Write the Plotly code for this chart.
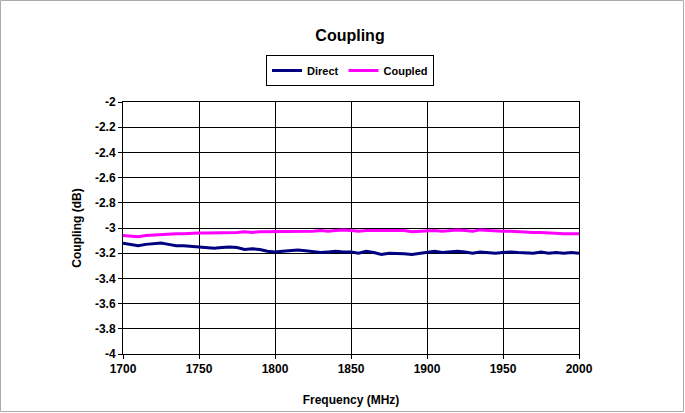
import plotly.graph_objects as go

freq = list(range(1700, 2001, 5))
direct = [-3.12, -3.13, -3.14, -3.13, -3.125, -3.12, -3.13, -3.14, -3.14, -3.145,
          -3.15, -3.155, -3.16, -3.155, -3.15, -3.155, -3.17, -3.165, -3.17, -3.185,
          -3.19, -3.185, -3.18, -3.175, -3.18, -3.19, -3.195, -3.19, -3.185, -3.19,
          -3.19, -3.2, -3.185, -3.195, -3.21, -3.2, -3.2, -3.205, -3.21, -3.2,
          -3.19, -3.185, -3.195, -3.19, -3.185, -3.19, -3.2, -3.19, -3.195, -3.2,
          -3.195, -3.19, -3.195, -3.2, -3.2, -3.19, -3.2, -3.195, -3.2, -3.195, -3.2]
coupled = [-3.06, -3.065, -3.07, -3.06, -3.055, -3.05, -3.05, -3.045, -3.045, -3.04,
           -3.04, -3.04, -3.04, -3.04, -3.035, -3.035, -3.03, -3.035, -3.03, -3.03,
           -3.025, -3.025, -3.025, -3.03, -3.025, -3.025, -3.02, -3.025, -3.02, -3.015,
           -3.02, -3.025, -3.02, -3.02, -3.025, -3.02, -3.025, -3.02, -3.03, -3.025,
           -3.02, -3.02, -3.025, -3.02, -3.015, -3.02, -3.025, -3.015, -3.02, -3.025,
           -3.025, -3.025, -3.03, -3.03, -3.035, -3.035, -3.04, -3.04, -3.045, -3.045, -3.045]

x_ticks = [1700, 1750, 1800, 1850, 1900, 1950, 2000]
y_ticks = [-2, -2.2, -2.4, -2.6, -2.8, -3, -3.2, -3.4, -3.6, -3.8, -4]

W, H = 685, 413
L, R, T, B = 123, 106, 102, 59
pw, ph = W - L - R, H - T - B

font = dict(family="Liberation Sans, Arial", color="black")

fig = go.Figure()
fig.add_trace(go.Scatter(x=freq, y=direct, mode="lines", name="<b>Direct</b>",
                         line=dict(color="#000080", width=3)))
fig.add_trace(go.Scatter(x=freq, y=coupled, mode="lines", name="<b>Coupled</b>",
                         line=dict(color="#FF00FF", width=3)))

fig.update_layout(
    width=W, height=H,
    margin=dict(l=L, r=R, t=T, b=B),
    paper_bgcolor="white", plot_bgcolor="white",
    font=dict(size=12, **font),
    title=dict(text="<b>Coupling</b>", x=350 / W, xanchor="center",
               y=1 - 35 / H, yanchor="middle", font=dict(size=16, **font)),
    showlegend=True,
    legend=dict(orientation="h", x=(350 - L) / pw, xanchor="center",
                y=1 + (T - 55) / ph, yanchor="top",
                bordercolor="black", borderwidth=1, bgcolor="white",
                font=dict(size=11, **font), itemwidth=30,
                tracegroupgap=0),
    xaxis=dict(range=[1700, 2000], tickvals=x_ticks,
               ticktext=[f"<b>{v}</b>" for v in x_ticks],
               showgrid=True, gridcolor="black", gridwidth=1,
               showline=True, linecolor="black", linewidth=1, mirror=True,
               ticks="outside", ticklen=4, tickcolor="black", automargin=False,
               zeroline=False, tickfont=dict(size=12, **font),
               title=dict(text="<b>Frequency (MHz)</b>", font=dict(size=12, **font), standoff=20)),
    yaxis=dict(range=[-4, -2], tickvals=y_ticks,
               ticktext=[f"<b>{v:g}</b>" for v in y_ticks],
               showgrid=True, gridcolor="black", gridwidth=1,
               showline=True, linecolor="black", linewidth=1, mirror=True,
               ticks="outside", ticklen=4, tickcolor="black", automargin=False,
               zeroline=False, tickfont=dict(size=12, **font),
               title=dict(text="<b>Coupling (dB)</b>", font=dict(size=12, **font), standoff=10)),
)

# outer chart border
fig.add_shape(type="rect", xref="paper", yref="paper",
              x0=(0.5 - L) / pw, x1=(W - 1.5 - L) / pw,
              y0=(T + ph - (H - 1.5)) / ph, y1=(T + ph - 0.5) / ph,
              line=dict(color="#aaaaaa", width=1), fillcolor="rgba(0,0,0,0)", layer="below")

fig.write_html("out.html", config={"displayModeBar": False},
               post_script="document.body.style.margin='0';document.body.style.padding='0';")
